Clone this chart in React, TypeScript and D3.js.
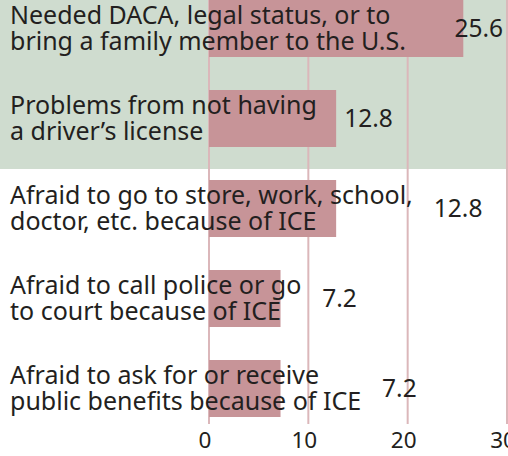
import React, { useEffect, useRef } from 'react';
import * as d3 from 'd3';

// reasons, each split in two lines as printed
const reasons: string[][] = [
  ['Needed DACA, legal status, or to', 'bring a family member to the U.S.'],
  ['Problems from not having', 'a driver\u2019s license'],
  ['Afraid to go to store, work, school,', 'doctor, etc. because of ICE'],
  ['Afraid to call police or go', 'to court because of ICE'],
  ['Afraid to ask for or receive', 'public benefits because of ICE'],
];
const percents: number[] = [25.6, 12.8, 12.8, 7.2, 7.2];
const ticks: number[] = [0, 10, 20, 30];
const highlighted = 2; // first two rows sit on the green panel

const App = () => {
  const svgRef = useRef<SVGSVGElement>(null);
  const width = 508;
  const height = 456;

  useEffect(() => {
    const svg = d3.select(svgRef.current);
    svg.selectAll('*').remove();

    const font = '"Noto Sans", "Open Sans", sans-serif';
    const ink = '#231f20';

    const x = d3.scaleLinear().domain([0, 30]).range([209, 507]);
    const y = d3.scaleBand<number>()
      .domain(d3.range(reasons.length))
      .range([0, 417])
      .paddingInner(33 / 90)
      .paddingOuter(0);
    const bw = y.bandwidth();

    // green panel behind the first rows
    svg.append('rect')
      .attr('x', 0)
      .attr('y', 0)
      .attr('width', width)
      .attr('height', (y(highlighted) as number) - 11)
      .attr('fill', '#cfdccf');

    // gridlines
    svg.append('g')
      .selectAll('line')
      .data(ticks)
      .enter()
      .append('line')
      .attr('x1', d => x(d))
      .attr('x2', d => x(d))
      .attr('y1', 0)
      .attr('y2', 424)
      .attr('stroke', '#dbb7ba')
      .attr('stroke-width', 2);

    // bars
    svg.append('g')
      .selectAll('rect')
      .data(percents)
      .enter()
      .append('rect')
      .attr('x', x(0))
      .attr('y', (_, i) => y(i) as number)
      .attr('width', d => x(d) - x(0))
      .attr('height', bw)
      .attr('fill', '#c79498');

    // category labels
    const labels = svg.append('g')
      .selectAll('text')
      .data(reasons)
      .enter()
      .append('text')
      .attr('x', 10)
      .attr('y', (_, i) => (y(i) as number) + bw / 2 - 4.5)
      .style('font-family', font)
      .style('font-size', '25px')
      .attr('fill', ink);

    labels.each(function (lines) {
      const t = d3.select(this);
      lines.forEach((line, j) => {
        t.append('tspan')
          .attr('x', 10)
          .attr('dy', j === 0 ? 0 : 25.5)
          .text(line);
      });
    });

    const textEnds: number[] = [];
    labels.each(function () {
      const spans = (this as SVGTextElement).querySelectorAll('tspan');
      let w = 0;
      spans.forEach(s => { w = Math.max(w, (s as SVGTSpanElement).getComputedTextLength()); });
      textEnds.push(10 + w);
    });

    // value labels, placed clear of both the bar and the label text
    const values = svg.append('g')
      .selectAll('text')
      .data(percents)
      .enter()
      .append('text')
      .attr('y', (_, i) => (y(i) as number) + bw / 2 + 8.5)
      .style('font-family', font)
      .style('font-size', '24.5px')
      .attr('fill', ink)
      .text(d => d.toFixed(1));

    values.attr('x', function (d, i) {
      const w = (this as SVGTextElement).getComputedTextLength();
      const pos = Math.max(x(d) + 8, textEnds[i] + 21);
      return Math.min(pos, width - w - 5);
    });

    // axis tick labels
    svg.append('g')
      .selectAll('text')
      .data(ticks)
      .enter()
      .append('text')
      .attr('x', d => x(d) - 4)
      .attr('y', 448)
      .attr('text-anchor', 'middle')
      .style('font-family', font)
      .style('font-size', '22.5px')
      .attr('fill', ink)
      .text(d => d);
  }, []);

  return (
    <svg
      ref={svgRef}
      width={width}
      height={height}
      style={{ position: 'absolute', left: 0, top: 0, background: '#fff' }}
    />
  );
};

export default App;
